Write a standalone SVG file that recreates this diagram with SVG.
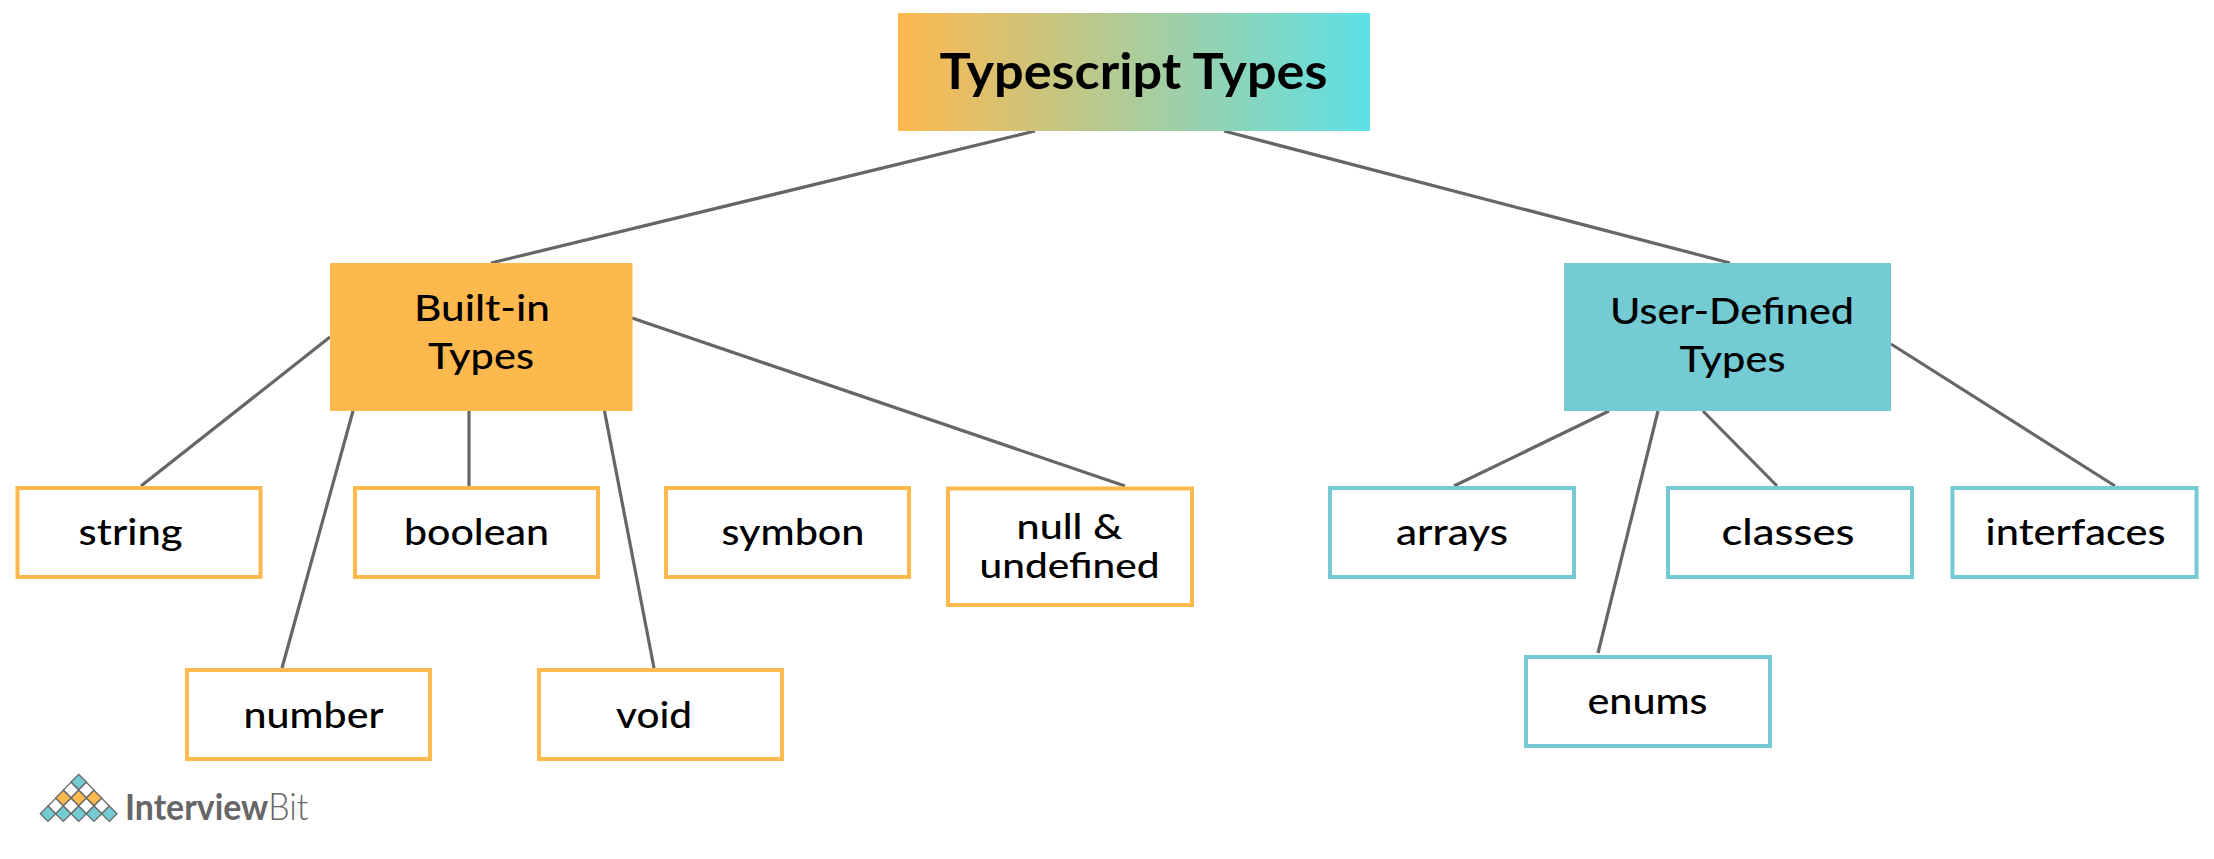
<svg xmlns="http://www.w3.org/2000/svg" width="2214" height="859" viewBox="0 0 2214 859">
<style>
text{font-family:"Lato","Noto Sans","Liberation Sans",sans-serif;fill:#000;text-anchor:middle;font-size:37px;font-weight:500}
.title{font-size:49px;font-weight:700}
.small{font-size:35px}
.o{fill:#fff;stroke:#FDB84E;stroke-width:4}
.t{fill:#fff;stroke:#74CBD4;stroke-width:4}
#connectors line{stroke:#666;stroke-width:3.2;fill:none}
#logo use{stroke:#6a6a6a;stroke-width:1.3}
.brand{font-size:37px;fill:#666;text-anchor:start}
</style>
<defs>
<linearGradient id="g"><stop offset="0" stop-color="#FDB84E"/><stop offset="1" stop-color="#5DE0E6"/></linearGradient>
<polygon id="d" points="0,-7.7 7.7,0 0,7.7 -7.7,0"/>
</defs>
<rect width="2214" height="859" fill="#fff"/>
<g id="connectors">
<line x1="1035" y1="131" x2="491" y2="263"/>
<line x1="1224" y1="131" x2="1730" y2="263"/>
<line x1="330" y1="337" x2="141" y2="486"/>
<line x1="353" y1="411" x2="282" y2="668"/>
<line x1="469" y1="411" x2="469" y2="486"/>
<line x1="604.5" y1="411" x2="654" y2="668"/>
<line x1="632" y1="318" x2="1125" y2="486"/>
<line x1="1609" y1="411" x2="1454" y2="486"/>
<line x1="1658" y1="411" x2="1598" y2="653"/>
<line x1="1703" y1="411" x2="1777" y2="486"/>
<line x1="1891" y1="344" x2="2115" y2="486"/>
</g>
<g id="root"><rect x="898" y="13" width="472" height="118" fill="url(#g)"/><text class="title" x="1133.5" y="89" textLength="388" lengthAdjust="spacingAndGlyphs">Typescript Types</text></g>
<g id="builtin"><rect x="330" y="263" width="302.500" height="148" fill="#FDB84E"/><text x="482" y="321" textLength="136" lengthAdjust="spacingAndGlyphs">Built-in</text><text x="481" y="369" textLength="106" lengthAdjust="spacingAndGlyphs">Types</text></g>
<g id="userdefined"><rect x="1564" y="263" width="327" height="148" fill="#74CBD4"/><text x="1732" y="324" textLength="244" lengthAdjust="spacingAndGlyphs">User-Defined</text><text x="1732.500" y="372" textLength="106" lengthAdjust="spacingAndGlyphs">Types</text></g>
<g id="string"><rect class="o" x="17.500" y="488" width="243" height="89"/><text x="130.600" y="545" textLength="104" lengthAdjust="spacingAndGlyphs">string</text></g>
<g id="boolean"><rect class="o" x="355" y="488" width="243" height="89"/><text x="476.500" y="545" textLength="145" lengthAdjust="spacingAndGlyphs">boolean</text></g>
<g id="symbon"><rect class="o" x="666" y="488" width="243" height="89"/><text x="793" y="545" textLength="143" lengthAdjust="spacingAndGlyphs">symbon</text></g>
<g id="null"><rect class="o" x="948" y="488.500" width="244" height="116.500"/><text class="small" x="1069.500" y="539" textLength="106" lengthAdjust="spacingAndGlyphs">null &amp;</text><text class="small" x="1069.500" y="578" textLength="180" lengthAdjust="spacingAndGlyphs">undefined</text></g>
<g id="number"><rect class="o" x="187" y="670" width="243" height="89"/><text x="313.600" y="728" textLength="140" lengthAdjust="spacingAndGlyphs">number</text></g>
<g id="void"><rect class="o" x="539" y="670" width="243" height="89"/><text x="654" y="728" textLength="76" lengthAdjust="spacingAndGlyphs">void</text></g>
<g id="arrays"><rect class="t" x="1330" y="488" width="244" height="89"/><text x="1452" y="545" textLength="112" lengthAdjust="spacingAndGlyphs">arrays</text></g>
<g id="classes"><rect class="t" x="1668" y="488" width="244" height="89"/><text x="1788" y="545" textLength="133" lengthAdjust="spacingAndGlyphs">classes</text></g>
<g id="interfaces"><rect class="t" x="1952.500" y="488" width="244" height="89"/><text x="2075.600" y="545" textLength="180" lengthAdjust="spacingAndGlyphs">interfaces</text></g>
<g id="enums"><rect class="t" x="1526" y="657" width="244" height="89"/><text x="1647.500" y="714" textLength="120" lengthAdjust="spacingAndGlyphs">enums</text></g>
<g id="logo">
<use href="#d" x="78.700" y="782" fill="#74CBD4"/>
<use href="#d" x="71" y="790" fill="#fff"/><use href="#d" x="86.300" y="790" fill="#fff"/>
<use href="#d" x="63.300" y="798" fill="#FDB84E"/><use href="#d" x="78.700" y="798" fill="#FDB84E"/><use href="#d" x="94" y="798" fill="#FDB84E"/>
<use href="#d" x="55.700" y="806" fill="#fff"/><use href="#d" x="71" y="806" fill="#fff"/><use href="#d" x="86.300" y="806" fill="#fff"/><use href="#d" x="101.700" y="806" fill="#fff"/>
<use href="#d" x="48" y="813.700" fill="#74CBD4"/><use href="#d" x="63.300" y="813.700" fill="#74CBD4"/><use href="#d" x="78.700" y="813.700" fill="#74CBD4"/><use href="#d" x="94" y="813.700" fill="#74CBD4"/><use href="#d" x="109.300" y="813.700" fill="#74CBD4"/>
<text class="brand" transform="translate(125 820) scale(.915 1)"><tspan font-weight="700">Interview</tspan><tspan font-weight="300">Bit</tspan></text>
</g>
</svg>
